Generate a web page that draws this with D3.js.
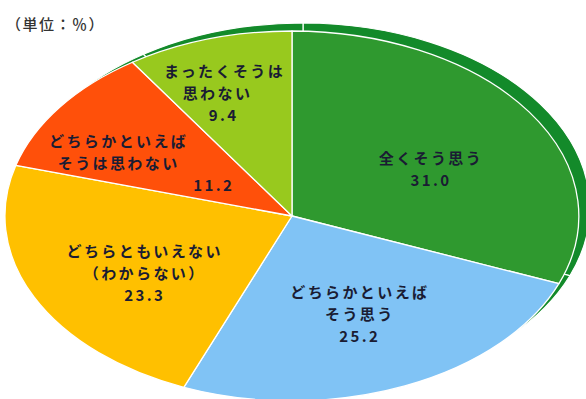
<!DOCTYPE html>
<html>
<head>
<meta charset="utf-8">
<script src="https://cdn.jsdelivr.net/npm/d3@7"></script>
<style>
  html, body { margin: 0; padding: 0; background: #fff; }
  svg { display: block; }
  text { font-family: "Noto Sans CJK JP", "Noto Sans", sans-serif; }
</style>
</head>
<body>
<svg id="chart" width="586" height="399"></svg>
<script>
// Survey answers, clockwise from 12 o'clock
const categories = [
  ["全くそう思う"],
  ["どちらかといえば", "そう思う"],
  ["どちらともいえない", "（わからない）"],
  ["どちらかといえば", "そうは思わない"],
  ["まったくそうは", "思わない"]
];
const values = [31.0, 25.2, 23.3, 11.2, 9.4];
const unitLabel = "（単位：％）";

const colors = ["#2f992f", "#80c3f5", "#ffc000", "#ff500a", "#98c91e"];
const rimColor = "#138a2a";

// Ellipse geometry of the flattened pie
const W = 586, H = 399;
const cx = 292, cy = 216, rx = 287, ry = 185;
const rimOffset = [11, -8];

// Label placement: radial fraction and angle nudge (degrees), plus per-line x shift
const labelLayout = [
  { r: 0.544, da: 6.2, dx: [0, 0] },
  { r: 0.578, da: -0.5, dx: [0, 0, 0] },
  { r: 0.601, da: -4.6, dx: [0, 0, 0] },
  { r: 0.673, da: -10.7, dx: [0, 0, 95] },
  { r: 0.713, da: -3.3, dx: [2, -5, 1] }
];
const lineHeight = 22;

const svg = d3.select("#chart");

const pie = d3.pie().sort(null).value(d => d)
  .startAngle(0).endAngle(2 * Math.PI);
const arcs = pie(values);
const arc = d3.arc().innerRadius(0).outerRadius(1);

// Dark green back rim: the pie shifted up-right
const rim = svg.append("g")
  .attr("transform", `translate(${cx + rimOffset[0]},${cy + rimOffset[1]}) scale(${rx},${ry})`);
rim.selectAll("path").data(arcs).join("path")
  .attr("d", arc)
  .attr("fill", rimColor)
  .attr("stroke", "#fff")
  .attr("stroke-width", 1.2)
  .attr("vector-effect", "non-scaling-stroke");

// Main slices
const pieG = svg.append("g")
  .attr("transform", `translate(${cx},${cy}) scale(${rx},${ry})`);
pieG.selectAll("path").data(arcs).join("path")
  .attr("d", arc)
  .attr("fill", (d, i) => colors[i])
  .attr("stroke", "#fff")
  .attr("stroke-width", 1.3)
  .attr("stroke-linejoin", "round")
  .attr("vector-effect", "non-scaling-stroke");

// Labels: category lines followed by the value
const labels = svg.append("g")
  .attr("fill", "#1a1c33")
  .attr("font-size", 15)
  .attr("font-weight", 700)
  .attr("letter-spacing", 2.4)
  .attr("text-anchor", "middle");

arcs.forEach((d, i) => {
  const lay = labelLayout[i];
  const a = (d.startAngle + d.endAngle) / 2 + lay.da * Math.PI / 180;
  const px = cx + rx * lay.r * Math.sin(a);
  const py = cy - ry * lay.r * Math.cos(a);
  const lines = categories[i].concat([d3.format(".1f")(values[i])]);
  const y0 = py - (lines.length - 1) * lineHeight / 2;
  lines.forEach((t, j) => {
    labels.append("text")
      .attr("x", px + (lay.dx[j] || 0) + 1.2)
      .attr("y", y0 + j * lineHeight)
      .attr("dominant-baseline", "central")
      .text(t);
  });
});

// Unit note
svg.append("text")
  .attr("x", 6)
  .attr("y", 23)
  .attr("dominant-baseline", "central")
  .attr("fill", "#333")
  .attr("font-size", 15)
  .attr("font-weight", 500)
  .attr("letter-spacing", 1.5)
  .text(unitLabel);
</script>
</body>
</html>
